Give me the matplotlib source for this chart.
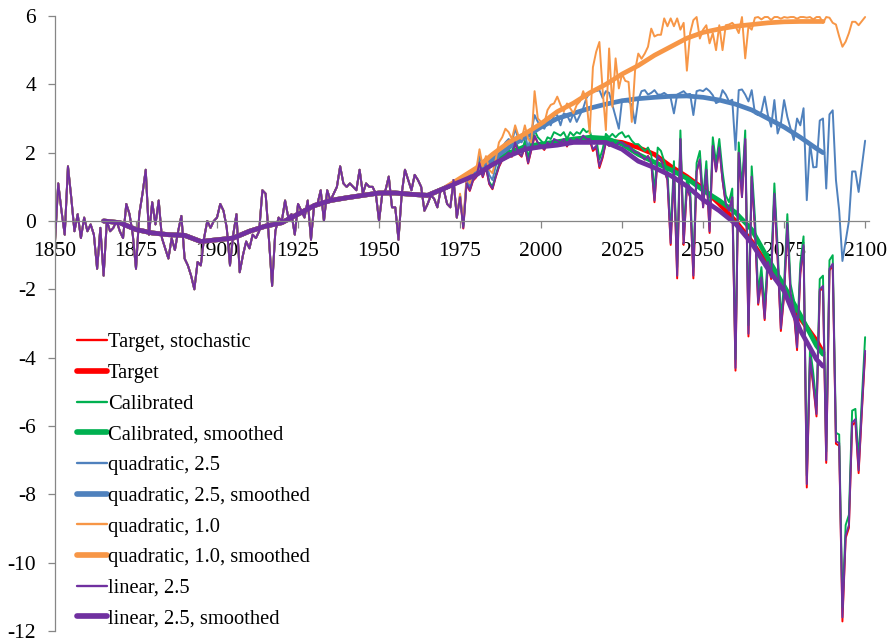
import matplotlib
matplotlib.use("Agg")
import matplotlib.pyplot as plt
from matplotlib.lines import Line2D

plt.rcParams['font.family'] = ['Liberation Serif', 'DejaVu Serif']
plt.rcParams['axes.unicode_minus'] = False

# shared annual values 1850-1974 (all stochastic runs coincide here)
hist = [
    -0.6, 1.1, 0.3, -0.4, 1.6, 0.7, -0.3, 0.2, -0.5, 0.1,
    -0.3, -0.1, -0.4, -1.4, -0.2, -1.6, 0.0, -0.3, -0.2, 0.0,
    -0.3, -0.5, 0.5, 0.2, -0.4, -1.4, 0.2, 0.8, 1.5, -0.4,
    0.55, -0.1, 0.6, -0.5, -0.8, -1.1, -0.5, -0.85, -0.3, 0.15,
    -1.1, -1.3, -1.6, -2.0, -1.2, -1.3, -0.5, 0.0, -0.2, 0.0,
    0.1, 0.5, 0.3, -0.2, -1.3, -0.4, 0.2, -1.5, -1.0, -0.6,
    -0.8, -0.4, -0.5, -0.3, 0.9, 0.8, -0.5, -1.9, -0.3, 0.1,
    0.0, 0.6, 0.1, 0.2, -0.4, 0.5, 0.3, 0.1, 0.6, -0.55,
    0.5, 0.5, 0.9, 0.0, 0.9, 0.6, 0.8, 1.0, 1.6, 1.1,
    1.0, 1.1, 1.0, 0.9, 1.5, 0.8, 1.1, 1.0, 1.0, 0.8,
    0.0, 0.8, 0.9, 1.3, 0.4, 0.4, -0.55, 0.8, 1.5, 1.2,
    0.9, 1.35, 1.2, 1.0, 0.3, 0.5, 0.75, 0.65, 0.4, 0.9,
    0.9, 0.5, 0.4, 1.2, 0.1,
]

# annual values 1975-2100 per run
target_stoch = [
    0.68, -0.22, 1.08, 0.88, 1.18, 1.28, 1.68, 1.28, 1.58, 1.08,
    0.93, 1.28, 1.58, 1.78, 1.88, 1.98, 1.88, 2.28, 1.98, 1.88,
    2.18, 1.68, 2.08, 2.48, 2.28, 2.18, 2.08, 2.28, 2.18, 2.38,
    2.33, 2.28, 2.38, 2.18, 2.38, 2.28, 2.38, 2.33, 2.48, 2.38,
    2.38, 2.05, 2.15, 1.55, 1.85, 2.3, 2.2, 2.3, 2.2, 2.3,
    2.3, 2.2, 2.2, 2.1, 2.0, 2.0, 1.9, 1.8, 1.9, 1.7,
    0.55, 1.9, 1.8, 1.5, 1.2, -0.7, 1.5, -1.68, 2.4, -0.7,
    1.0, 0.7, -1.68, 1.45, 1.8, 0.4, 1.5, -0.35, 2.2, 1.45,
    2.15, 1.2, 0.5, 0.3, 0.7, -4.38, 2.0, 0.7, 2.4, -3.38,
    1.3, -0.22, -2.45, -1.7, -2.9, -1.25, -1.7, 0.8, -1.1, -3.22,
    -2.18, -0.12, -2.18, -2.65, -3.78, -1.55, -0.75, -7.8, -4.08, -4.82,
    -5.72, -2.05, -1.95, -7.08, -1.45, -1.3, -6.52, -6.58, -11.72, -9.28,
    -8.98, -5.98, -5.88, -7.38, -5.58, -3.88,
]
calibrated = [
    0.75, -0.15, 1.15, 0.95, 1.25, 1.35, 1.75, 1.35, 1.65, 1.15,
    1.0, 1.35, 1.65, 1.85, 1.95, 2.1, 2.0, 2.4, 2.1, 2.0,
    2.35, 1.85, 2.25, 2.65, 2.45, 2.35, 2.25, 2.45, 2.4, 2.6,
    2.55, 2.5, 2.6, 2.4, 2.6, 2.5, 2.6, 2.55, 2.7, 2.6,
    2.65, 2.3, 2.45, 1.8, 2.1, 2.55, 2.45, 2.55, 2.45, 2.55,
    2.6, 2.45, 2.5, 2.35, 2.25, 2.25, 2.15, 2.05, 2.15, 1.95,
    0.85, 2.15, 2.05, 1.75, 1.45, -0.4, 1.75, -1.35, 2.65, -0.4,
    1.25, 0.95, -1.35, 1.7, 2.05, 0.65, 1.75, -0.05, 2.45, 1.7,
    2.4, 1.45, 0.75, 0.55, 0.95, -4.05, 2.3, 0.95, 2.65, -3.05,
    1.6, 0.1, -2.1, -1.35, -2.55, -0.95, -1.35, 1.1, -0.75, -2.85,
    -1.85, 0.2, -1.85, -2.3, -3.45, -1.25, -0.45, -7.45, -3.7, -4.45,
    -5.4, -1.7, -1.6, -6.75, -1.15, -1.0, -6.2, -6.25, -11.3, -8.9,
    -8.6, -5.55, -5.5, -7.0, -5.2, -3.4,
]
quad_25 = [
    0.75, -0.1, 1.2, 1.0, 1.35, 1.45, 1.9, 1.5, 1.8, 1.35,
    1.2, 1.6, 1.9, 2.15, 2.3, 2.4, 2.3, 2.7, 2.4, 2.3,
    2.6, 2.1, 2.6, 3.1, 2.9, 2.8, 2.7, 2.9, 2.8, 3.1,
    3.1, 2.8, 3.15, 3.1, 2.9, 3.15, 2.9, 3.1, 3.3, 3.6,
    3.75, 3.83, 3.8, 3.83, 3.6, 3.8, 3.75, 3.4, 3.05, 2.7,
    3.55, 3.5, 3.5, 3.4, 2.86, 3.55, 3.8, 3.83, 3.7, 3.75,
    3.83, 3.7, 3.7, 3.75, 3.68, 3.6, 3.15, 3.7, 3.75, 3.8,
    3.7, 3.72, 3.1, 3.8, 3.83, 3.8, 3.88, 3.8, 3.68, 3.45,
    3.5, 3.83, 3.7, 3.5, 3.55, 2.08, 3.83, 3.85, 3.7, 3.5,
    3.83, 3.15, 3.1, 3.2, 3.64, 3.1, 2.76, 3.54, 2.56, 2.85,
    3.54, 3.05, 2.7, 2.37, 3.0, 2.8, 3.3, 0.61, 2.28, 1.57,
    1.58, 2.94, 3.0, 0.95, 3.12, 3.24, 1.2, 0.3, -1.17, -0.58,
    0.0, 1.45, 1.45, 0.85, 1.6, 2.35,
]
quad_10 = [
    0.8, -0.05, 1.3, 1.1, 1.45, 1.5, 2.1, 1.6, 1.9, 1.5,
    1.4, 1.8, 2.3, 2.45, 2.7, 2.6, 2.4, 2.8, 2.5, 2.4,
    2.8, 2.4, 2.3, 3.8, 3.0, 2.9, 2.86, 3.25, 3.4, 3.44,
    3.64, 3.4, 3.2, 3.44, 3.3, 3.15, 3.4, 3.5, 3.8, 3.54,
    2.56, 4.5, 4.95, 5.24, 3.83, 2.66, 5.05, 3.34, 4.76, 3.88,
    4.3, 4.1, 4.07, 2.9, 4.4, 4.9, 4.75, 4.9, 5.1, 5.63,
    5.4, 5.45, 5.45, 5.93, 5.7, 5.93, 5.7, 5.93, 5.6, 5.8,
    4.4, 5.5, 5.88, 5.97, 5.34, 5.6, 5.73, 5.2, 5.5, 5.0,
    5.73, 5.0, 5.73, 5.75, 5.8, 5.7, 5.5, 5.97, 4.76, 5.7,
    5.6, 5.95, 5.97, 5.9, 5.97, 5.97, 5.88, 5.97, 5.97, 5.92,
    5.97, 5.95, 5.97, 5.97, 5.92, 5.97, 5.97, 5.95, 5.97, 5.9,
    5.97, 5.97, 5.8, 5.97, 5.95, 5.8, 5.75, 5.4, 5.1, 5.25,
    5.5, 5.83, 5.83, 5.73, 5.85, 5.97,
]
linear_25 = [
    0.7, -0.2, 1.1, 0.9, 1.2, 1.3, 1.7, 1.3, 1.6, 1.1,
    0.95, 1.3, 1.6, 1.8, 1.9, 2.0, 1.9, 2.3, 2.0, 1.9,
    2.2, 1.7, 2.1, 2.5, 2.3, 2.2, 2.1, 2.3, 2.2, 2.4,
    2.35, 2.3, 2.4, 2.2, 2.4, 2.3, 2.4, 2.35, 2.5, 2.4,
    2.4, 2.1, 2.2, 1.6, 1.9, 2.3, 2.2, 2.3, 2.2, 2.3,
    2.3, 2.2, 2.2, 2.1, 2.0, 2.0, 1.9, 1.8, 1.9, 1.7,
    0.6, 1.9, 1.8, 1.5, 1.2, -0.65, 1.5, -1.6, 2.4, -0.65,
    1.0, 0.7, -1.6, 1.45, 1.8, 0.4, 1.5, -0.3, 2.2, 1.45,
    2.15, 1.2, 0.5, 0.3, 0.7, -4.3, 2.0, 0.7, 2.4, -3.3,
    1.3, -0.2, -2.4, -1.65, -2.85, -1.2, -1.65, 0.8, -1.05, -3.15,
    -2.13, -0.08, -2.13, -2.6, -3.7, -1.5, -0.7, -7.7, -4.0, -4.75,
    -5.65, -2.0, -1.9, -7.0, -1.4, -1.25, -6.45, -6.5, -11.6, -9.2,
    -8.9, -5.9, -5.8, -7.3, -5.5, -3.8,
]

# smoothed curves, read every 5 years (1865-1970 shared, then per run to 2087)
smooth_hist = [0.0, -0.05, -0.25, -0.35, -0.4, -0.42, -0.6, -0.55, -0.5, -0.3, -0.15,
               -0.05, 0.2, 0.45, 0.6, 0.68, 0.75, 0.82, 0.82, 0.78, 0.75, 0.95]
target_sm = [1.17, 1.37, 1.67, 1.92, 2.12, 2.19, 2.25, 2.32, 2.33, 2.35, 2.3, 2.15,
             1.95, 1.6, 1.3, 0.95, 0.5, 0.0, -0.6, -1.3, -2.0, -2.85, -3.5, -3.85]
calibrated_sm = [1.18, 1.4, 1.72, 1.98, 2.18, 2.25, 2.32, 2.4, 2.45, 2.42, 2.25, 1.95,
                 1.72, 1.5, 1.25, 0.9, 0.6, 0.25, -0.25, -1.1, -1.9, -2.75, -3.65, -3.9]
quad_25_sm = [1.2, 1.45, 1.8, 2.15, 2.45, 2.75, 3.0, 3.15, 3.3, 3.42, 3.52, 3.58,
              3.62, 3.65, 3.66, 3.62, 3.54, 3.42, 3.25, 3.0, 2.75, 2.45, 2.12, 2.0]
quad_10_sm = [1.25, 1.55, 1.95, 2.3, 2.55, 2.85, 3.2, 3.45, 3.75, 4.0, 4.3, 4.55,
              4.85, 5.1, 5.35, 5.52, 5.62, 5.7, 5.75, 5.8, 5.83, 5.84, 5.84, 5.84]
linear_25_sm = [1.15, 1.35, 1.65, 1.9, 2.1, 2.17, 2.22, 2.3, 2.3, 2.3, 2.1, 1.75,
                1.56, 1.33, 1.02, 0.62, 0.3, -0.08, -0.65, -1.4, -2.05, -3.2, -4.05, -4.25]

years = list(range(1850, 2101))
smooth_years = list(range(1865, 2086, 5)) + [2087]

red = '#FF0000'
green = '#00B050'
blue = '#4F81BD'
orange = '#F79646'
purple = '#7030A0'
thin = 1.4
thick = 3.4

series = [
    ('Target, stochastic', years, hist + target_stoch, red, thin),
    ('Target', smooth_years, smooth_hist + target_sm, red, thick),
    ('Calibrated', years, hist + calibrated, green, thin),
    ('Calibrated, smoothed', smooth_years, smooth_hist + calibrated_sm, green, thick),
    ('quadratic, 2.5', years, hist + quad_25, blue, thin),
    ('quadratic, 2.5, smoothed', smooth_years, smooth_hist + quad_25_sm, blue, thick),
    ('quadratic, 1.0', years, hist + quad_10, orange, thin),
    ('quadratic, 1.0, smoothed', smooth_years, smooth_hist + quad_10_sm, orange, thick),
    ('linear, 2.5', years, hist + linear_25, purple, thin),
    ('linear, 2.5, smoothed', smooth_years, smooth_hist + linear_25_sm, purple, thick),
]

fig = plt.figure(figsize=(8.91, 6.41), dpi=100)
ax = fig.add_axes([55 / 891, 1 - 631 / 641, 814 / 891, 615 / 641])

handles = []
for label, xs, ys, color, lw in series:
    ax.plot(xs, ys, color=color, lw=lw, solid_joinstyle='round', solid_capstyle='round')
    handles.append(Line2D([], [], color=color, lw=lw * 1.2, solid_capstyle='round'))

ax.set_xlim(1850, 2101.2)
ax.set_ylim(-12, 6)
ax.set_xticks(range(1850, 2101, 25))
ax.set_yticks(range(-12, 7, 2))

axis_grey = '#868686'
for side in ['top', 'right']:
    ax.spines[side].set_visible(False)
ax.spines['left'].set_color(axis_grey)
ax.spines['bottom'].set_color(axis_grey)
ax.spines['bottom'].set_position(('data', 0))
ax.spines['left'].set_linewidth(0.9)
ax.spines['bottom'].set_linewidth(0.9)
ax.tick_params(axis='both', direction='out', length=5, width=0.9, color=axis_grey,
               labelsize=15.5, labelcolor='black')
ax.tick_params(axis='x', pad=10)
ax.tick_params(axis='y', pad=8.5)
ax.patch.set_visible(False)

ax.legend(handles, [s[0] for s in series], loc='upper left',
          bbox_to_anchor=(77 / 891, 1 - 333 / 641), bbox_transform=fig.transFigure,
          frameon=False, handlelength=1.45, handletextpad=0.05, labelspacing=0.55,
          borderpad=0, borderaxespad=0, prop={'size': 14.8})

fig.savefig('out.png', dpi=100)
